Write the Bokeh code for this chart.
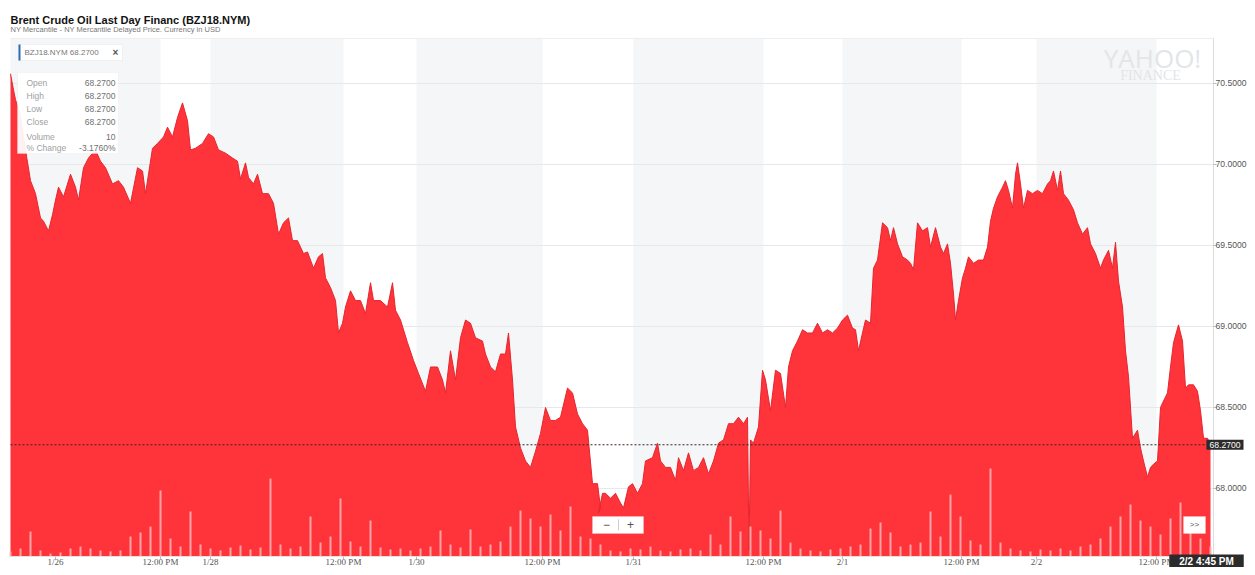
from bokeh.plotting import figure
from bokeh.models import Range1d, BoxAnnotation, Label
from bokeh.core.properties import value
from bokeh.embed import file_html
from bokeh.resources import INLINE

# ---------------- data ----------------
# x position = chart time index (one unit ~ one screen column), price in USD
t_a = [0, 3, 5, 10, 15, 20, 25, 30, 33, 38, 42, 45, 48, 53, 60, 65, 68, 73, 78, 85,
       90, 95, 102, 108, 113, 120, 127, 132, 135, 138, 142, 147, 153, 157, 162, 167, 172, 177, 180, 185,
       192, 198, 203, 208, 215, 222, 227, 230, 235, 238, 243, 247, 252, 258, 263, 268, 273, 278, 282, 287, 293]
price_a = [70.56, 70.46, 70.40, 70.30, 70.09, 69.90, 69.82, 69.67, 69.65, 69.59, 69.69, 69.78, 69.86, 69.80, 69.94, 69.86, 69.78, 69.98, 70.04, 70.09,
           70.02, 69.98, 69.88, 69.90, 69.86, 69.76, 69.98, 69.96, 69.82, 69.94, 70.10, 70.13, 70.17, 70.23, 70.17, 70.29, 70.38, 70.27, 70.09, 70.10,
           70.13, 70.19, 70.17, 70.09, 70.07, 70.04, 70.02, 69.91, 70.01, 69.92, 69.88, 69.94, 69.82, 69.82, 69.76, 69.57, 69.64, 69.67, 69.53, 69.53, 69.45]

t_b = [297, 303, 308, 312, 315, 320, 325, 328, 332, 335, 340, 345, 350, 355, 360, 363, 370, 377, 382, 385,
       390, 397, 403, 408, 415, 420, 427, 432, 435, 440, 445, 450, 455, 460, 465, 472, 475, 480, 485, 490,
       495, 498, 502, 505, 510, 515, 520, 525, 530, 535, 540, 545, 550, 557, 562, 567, 572, 577, 582, 587, 590]
price_b = [69.46, 69.36, 69.43, 69.45, 69.30, 69.24, 69.16, 68.96, 69.02, 69.12, 69.22, 69.16, 69.16, 69.08, 69.27, 69.16, 69.16, 69.12, 69.27, 69.10,
           69.04, 68.90, 68.79, 68.71, 68.60, 68.75, 68.75, 68.67, 68.59, 68.85, 68.67, 68.93, 69.04, 69.02, 68.93, 68.91, 68.83, 68.75, 68.72, 68.83,
           68.83, 68.96, 68.67, 68.38, 68.25, 68.17, 68.13, 68.23, 68.34, 68.50, 68.42, 68.42, 68.44, 68.62, 68.59, 68.46, 68.40, 68.36, 68.03, 68.03, 67.88]

t_c = [588, 592, 595, 600, 605, 610, 613, 618, 622, 627, 632, 635, 642, 647, 650, 655, 660, 665, 668, 673,
       678, 683, 688, 693, 698, 703, 708, 713, 718, 723, 728, 733, 737, 738.5, 740, 743, 748, 752, 755, 760,
       765, 770, 775, 778, 782, 787, 792, 797, 802, 807, 812, 817, 822, 827, 832, 837, 842, 845, 848, 852,
       855, 860, 863, 867, 872, 877, 880]
price_c = [67.85, 67.97, 67.97, 67.94, 67.97, 67.91, 67.88, 68.01, 68.03, 67.97, 68.03, 68.17, 68.19, 68.28, 68.17, 68.13, 68.13, 68.05, 68.19, 68.11,
           68.22, 68.11, 68.13, 68.19, 68.09, 68.17, 68.28, 68.30, 68.40, 68.40, 68.44, 68.40, 68.44, 67.62, 68.30, 68.28, 68.38, 68.73, 68.67, 68.48,
           68.73, 68.71, 68.50, 68.75, 68.85, 68.91, 68.98, 68.96, 68.96, 69.02, 68.96, 68.98, 68.96, 68.99, 69.04, 69.07, 68.99, 68.98, 68.85, 68.96,
           69.04, 69.02, 69.36, 69.41, 69.64, 69.61, 69.53]

t_d = [883, 887, 892, 897, 900, 903, 907, 912, 917, 920, 925, 930, 933, 937, 940, 943, 945, 948, 952, 955,
       958, 963, 968, 973, 977, 980, 983, 987, 992, 995, 998, 1002, 1005, 1007, 1010, 1013, 1017, 1022, 1027, 1032,
       1037, 1040, 1043, 1047, 1050, 1053, 1058, 1063, 1067, 1072, 1077, 1080, 1085, 1090, 1093, 1098, 1102, 1105, 1108, 1112,
       1115, 1118, 1122, 1127, 1130, 1133, 1137, 1140, 1143, 1147, 1150, 1153, 1157, 1160, 1163, 1168, 1172, 1175, 1178, 1183,
       1187, 1190, 1193, 1197, 1200]
price_d = [69.61, 69.51, 69.43, 69.41, 69.39, 69.35, 69.64, 69.59, 69.61, 69.49, 69.61, 69.49, 69.45, 69.51, 69.39, 69.20, 69.04, 69.16, 69.30, 69.36,
           69.43, 69.39, 69.41, 69.41, 69.49, 69.65, 69.73, 69.80, 69.86, 69.90, 69.84, 69.73, 69.94, 70.01, 69.88, 69.73, 69.84, 69.82, 69.84, 69.82,
           69.88, 69.90, 69.96, 69.84, 69.96, 69.82, 69.78, 69.72, 69.64, 69.57, 69.61, 69.51, 69.45, 69.36, 69.41, 69.47, 69.36, 69.52, 69.28, 69.12,
           68.85, 68.69, 68.31, 68.36, 68.25, 68.17, 68.07, 68.13, 68.15, 68.17, 68.50, 68.54, 68.59, 68.75, 68.90, 69.01, 68.91, 68.62, 68.64, 68.64,
           68.60, 68.48, 68.31, 68.31, 68.27]

# volume (relative heights), one reading every 10 time units
vol_t = list(range(0, 1201, 10))
volume = [5, 8, 25, 6, 3, 4, 8, 10, 8, 6,
          5, 6, 20, 24, 30, 66, 18, 10, 45, 12,
          8, 6, 9, 11, 7, 9, 78, 12, 8, 10,
          40, 14, 20, 58, 15, 10, 36, 9, 7, 8,
          6, 8, 10, 26, 12, 9, 27, 10, 12, 15,
          30, 46, 38, 30, 42, 26, 50, 20, 18, 12,
          6, 5, 8, 7, 10, 6, 5, 7, 8, 6,
          22, 12, 40, 25, 30, 26, 18, 46, 14, 8,
          6, 5, 7, 8, 10, 12, 28, 34, 24, 10,
          12, 14, 45, 20, 62, 40, 16, 12, 88, 14,
          8, 6, 5, 7, 6, 8, 6, 10, 12, 18,
          30, 40, 52, 36, 30, 22, 38, 54, 30, 18,
          10]

tick_pos = [45, 150, 200, 333, 406, 532, 623, 753, 832, 951, 1026, 1146]
tick_labels = ["1/26", "12:00 PM", "1/28", "12:00 PM", "1/30", "12:00 PM",
               "1/31", "12:00 PM", "2/1", "12:00 PM", "2/2", "12:00 PM"]
band_left = [0, 200, 406, 623, 832, 1026]
band_right = [150, 333, 532, 753, 951, 1146]
y_ticks = [68.0, 68.5, 69.0, 69.5, 70.0, 70.5]
y_tick_labels = ["%.4f" % v for v in y_ticks]
last_price = 68.27
last_time = "2/2 4:45 PM"

info_names = ["Open", "High", "Low", "Close", "Volume", "% Change"]
info_values = ["68.2700", "68.2700", "68.2700", "68.2700", "10", "-3.1760%"]

t_all = t_a + t_b + t_c + t_d
price_all = price_a + price_b + price_c + price_d

# ---------------- figure ----------------
# plot area spans time 0..1201 and price 67.58..70.778; the canvas around it holds titles and axes
T0, T1 = 0, 1201
Y0, Y1 = 67.58, 70.778
AX = 1203          # right axis position (time units)
p = figure(frame_width=1247, frame_height=567, x_range=Range1d(-10, 1237), y_range=Range1d(67.5123, 71.0123),
           output_backend="svg", toolbar_location=None, x_axis_location=None, y_axis_location=None,
           min_border=0, background_fill_color="white", border_fill_color="white", outline_line_color=None)
p.xgrid.visible = False
p.ygrid.visible = False
p.extra_y_ranges = {"vol": Range1d(-11, 556)}

for l, r in zip(band_left, band_right):
    p.add_layout(BoxAnnotation(left=l, right=r, top=Y1, bottom=Y0, fill_color="#f4f6f7", fill_alpha=1.0,
                               line_alpha=0, level="underlay"))

# grid lines
p.segment(x0=[T0] * len(y_ticks), y0=y_ticks, x1=[AX] * len(y_ticks), y1=y_ticks,
          line_color="#e6e8ea", line_width=1)
p.segment(x0=[T0], y0=[Y1], x1=[AX], y1=[Y1], line_color="#eeeeee", line_width=1)

# price area + volume
p.varea(x=t_all, y1=Y0, y2=price_all, fill_color="#ff333a")
p.line(t_all, price_all, line_color="#e5262e", line_width=1)
p.vbar(x=vol_t, top=volume, bottom=0, width=2.0, y_range_name="vol",
       fill_color="#f7b0b2", fill_alpha=0.9, line_color=None)

# last price dotted line
p.segment(x0=[T0], y0=[last_price], x1=[AX], y1=[last_price], line_color="#3a2424",
          line_dash="2 2", line_width=1)

# right price axis
p.segment(x0=[AX], y0=[Y0], x1=[AX], y1=[Y1], line_color="#dcdcdc", line_width=1)
p.segment(x0=[AX] * len(y_ticks), y0=y_ticks, x1=[AX + 3] * len(y_ticks), y1=y_ticks,
          line_color="#bbbbbb", line_width=1)
p.text(x=[1236] * len(y_ticks), y=y_ticks, text=y_tick_labels, text_font=value("Liberation Sans"),
       text_font_size="8.6px", text_color="#555555", text_align="right", text_baseline="middle")

# bottom time axis
p.segment(x0=[T0], y0=[Y0], x1=[AX], y1=[Y0], line_color="#e4e4e4", line_width=1)
p.segment(x0=tick_pos, y0=[Y0] * len(tick_pos), x1=tick_pos, y1=[67.562] * len(tick_pos),
          line_color="#bbbbbb", line_width=1)
p.text(x=tick_pos, y=[67.547] * len(tick_pos), text=tick_labels, text_font=value("Liberation Serif"),
       text_font_size="9px", text_color="#555555", text_align="center", text_baseline="middle")

SANS = "Liberation Sans"

# titles
p.add_layout(Label(x=0, y=70.895, text="Brent Crude Oil Last Day Financ (BZJ18.NYM)",
                   text_font=SANS, text_font_size="11px", text_font_style="bold",
                   text_color="#111111", text_align="left", text_baseline="alphabetic"))
p.add_layout(Label(x=0, y=70.835, text="NY Mercantile - NY Mercantile Delayed Price. Currency in USD",
                   text_font=SANS, text_font_size="7.5px",
                   text_color="#777777", text_align="left", text_baseline="alphabetic"))

# Yahoo watermark
p.add_layout(Label(x=1142, y=70.66, text="YAHOO!", text_font="Open Sans", text_font_size="26px",
                   text_color="#e3e5e7", text_align="center", text_baseline="middle"))
p.add_layout(Label(x=1140, y=70.549, text="FINANCE", text_font="Liberation Serif", text_font_size="14px",
                   text_color="#e3e5e7", text_align="center", text_baseline="middle"))

# badge
p.add_layout(BoxAnnotation(left=8, right=112, top=70.741, bottom=70.642, fill_color="white",
                           fill_alpha=1.0, line_color="#d8d8d8", line_width=1))
p.add_layout(BoxAnnotation(left=8, right=10, top=70.741, bottom=70.642, fill_color="#2a6ebb",
                           fill_alpha=1.0, line_alpha=0))
p.add_layout(Label(x=14, y=70.691, text="BZJ18.NYM 68.2700", text_font=SANS,
                   text_font_size="8px", text_color="#777777", text_align="left", text_baseline="middle"))
p.add_layout(Label(x=105, y=70.691, text="×", text_font=SANS,
                   text_font_size="10px", text_font_style="bold", text_color="#555555",
                   text_align="center", text_baseline="middle"))

# info box
p.add_layout(BoxAnnotation(left=7, right=108, top=70.568, bottom=70.068, fill_color="white",
                           fill_alpha=0.93, line_color="#e4e4e4", line_width=1))
row_y = [70.50, 70.42, 70.34, 70.26, 70.17, 70.10]
for name, val, yy in zip(info_names, info_values, row_y):
    p.add_layout(Label(x=16, y=yy, text=name, text_font=SANS, text_font_size="8.5px",
                       text_color="#a0a0a0", text_align="left", text_baseline="middle"))
    p.add_layout(Label(x=105, y=yy, text=val, text_font=SANS, text_font_size="8.5px",
                       text_color="#707070", text_align="right", text_baseline="middle"))

# zoom buttons
p.add_layout(BoxAnnotation(left=582, right=633, top=67.827, bottom=67.722, fill_color="white",
                           fill_alpha=1.0, line_color="#dddddd"))
p.add_layout(BoxAnnotation(left=607.5, right=608.5, top=67.81, bottom=67.74, fill_color="#cccccc",
                           fill_alpha=1.0, line_alpha=0))
p.add_layout(Label(x=596, y=67.775, text="−", text_font=SANS, text_font_size="12px",
                   text_color="#555555", text_align="center", text_baseline="middle"))
p.add_layout(Label(x=620, y=67.775, text="+", text_font=SANS, text_font_size="12px",
                   text_color="#555555", text_align="center", text_baseline="middle"))
p.add_layout(BoxAnnotation(left=1173, right=1195, top=67.827, bottom=67.722, fill_color="white",
                           fill_alpha=1.0, line_color="#dddddd"))
p.add_layout(Label(x=1184, y=67.775, text=">>", text_font=SANS, text_font_size="8px",
                   text_color="#555555", text_align="center", text_baseline="middle"))

# price / time tags
p.add_layout(Label(x=1233, y=last_price, text="%.4f" % last_price, text_font=SANS,
                   text_font_size="8.6px", text_color="white", text_align="right", text_baseline="middle",
                   background_fill_color="#2b2b2b", background_fill_alpha=1.0,
                   padding=dict(left=3, right=3, top=2, bottom=2)))
p.add_layout(Label(x=1196, y=67.547, text=last_time, text_font=SANS,
                   text_font_size="10px", text_font_style="bold", text_color="white",
                   text_align="center", text_baseline="middle",
                   background_fill_color="#2b2b2b", background_fill_alpha=1.0,
                   padding=dict(left=10, right=10, top=2, bottom=2)))

open("out.html", "w").write(file_html(p, INLINE))
